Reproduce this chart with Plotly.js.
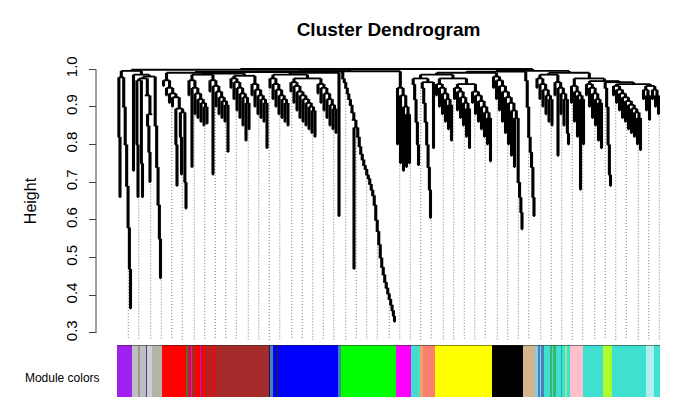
<!DOCTYPE html>
<html>
<head>
<meta charset="utf-8">
<script src="https://cdn.plot.ly/plotly-3.0.1.min.js"></script>
<style>html,body{margin:0;padding:0;overflow:hidden;background:#fff}</style>
</head>
<body>
<div id="chart" style="width:700px;height:411px"></div>
<script>
// ---- Dendrogram data: merge heights between neighbouring leaves (leaf order), one array per branch ----
const b01 = [0.82, 0.66];
const b02 = [0.90, 0.80, 0.69, 0.58, 0.47, 0.365];                                   // purple tail
const b03 = [0.73, 0.985, 0.80, 0.66, 0.97, 0.75, 0.66, 0.975, 0.93, 0.85,
             0.78, 0.70, 0.88, 0.98, 0.85, 0.74, 0.64, 0.55, 0.445];                     // grey
const b04 = [0.955, 0.97, 0.93, 0.95, 0.91, 0.935, 0.90, 0.925,
             0.80, 0.69, 0.895, 0.82, 0.72, 0.885, 0.70, 0.63];                           // red
const b05 = [0.93, 0.97, 0.74, 0.95, 0.88, 0.935, 0.87, 0.92, 0.86, 0.91, 0.85, 0.90, 0.855,
             0.985,
             0.94, 0.97, 0.72, 0.955, 0.90, 0.94, 0.88, 0.925, 0.87, 0.915, 0.86, 0.905, 0.78,
             0.988,
             0.95, 0.975, 0.92, 0.965, 0.89, 0.95, 0.87, 0.935, 0.85, 0.925, 0.81, 0.91, 0.84,
             0.982,
             0.93, 0.96, 0.90, 0.945, 0.88, 0.93, 0.87, 0.92, 0.86, 0.91, 0.79];             // brown area
const b06 = [0.95, 0.975, 0.92, 0.96, 0.90, 0.945, 0.88, 0.93, 0.87, 0.92, 0.86, 0.91, 0.85,
             0.985,
             0.94, 0.965, 0.91, 0.955, 0.89, 0.94, 0.87, 0.93, 0.86, 0.92, 0.85, 0.91, 0.84, 0.90, 0.83, 0.89, 0.82,
             0.975,
             0.935, 0.96, 0.91, 0.95, 0.89, 0.935, 0.87, 0.92, 0.85, 0.905, 0.84, 0.895, 0.83];  // blue
const b07 = [0.61];
const b08 = [0.975, 0.965, 0.95, 0.935, 0.92, 0.905, 0.885, 0.865, 0.47, 0.845,
             0.82, 0.795, 0.775, 0.76, 0.745, 0.735, 0.72, 0.71, 0.695, 0.68,
             0.665, 0.64, 0.60, 0.57, 0.535, 0.50, 0.475, 0.455, 0.435, 0.42,
             0.405, 0.39, 0.375, 0.36, 0.345, 0.33];                                       // green tail
const b09 = [0.80, 0.95, 0.75, 0.93, 0.73, 0.90, 0.74, 0.88, 0.75];                       // magenta
const b10 = [0.96, 0.92, 0.86, 0.80, 0.745, 0.975, 0.95, 0.91, 0.86, 0.80, 0.74, 0.68, 0.605, 0.965, 0.79];
const b11 = [0.93, 0.96, 0.90, 0.95, 0.88, 0.935, 0.86, 0.92, 0.84, 0.905, 0.81,
             0.975,
             0.92, 0.95, 0.89, 0.94, 0.87, 0.925, 0.85, 0.91, 0.82, 0.895, 0.79,
             0.96,
             0.91, 0.94, 0.88, 0.93, 0.86, 0.915, 0.84, 0.90, 0.82, 0.885, 0.80, 0.87, 0.755];  // yellow
const b12 = [0.95, 0.98, 0.92, 0.97, 0.89, 0.955, 0.86, 0.94, 0.83, 0.925,
             0.80, 0.91, 0.77, 0.89, 0.74, 0.87, 0.70, 0.66, 0.62, 0.575];                // black
const b13 = [0.97, 0.90, 0.82, 0.78, 0.74, 0.66, 0.61];                                     // tan
const b14 = [0.95, 0.975, 0.92, 0.96, 0.90, 0.945, 0.88, 0.93, 0.86, 0.92, 0.85,
             0.985,
             0.93, 0.965, 0.77, 0.95, 0.88, 0.935, 0.85, 0.92, 0.83, 0.80];
const b15 = [0.91, 0.955, 0.86, 0.94, 0.82, 0.93, 0.68, 0.92, 0.80,
             0.975,
             0.93, 0.96, 0.90, 0.95, 0.87, 0.935, 0.85, 0.92, 0.81, 0.91, 0.79,
             0.968,
             0.95, 0.90, 0.80, 0.72, 0.69,
             0.965,
             0.93, 0.955, 0.91, 0.945, 0.89, 0.935, 0.87, 0.925, 0.86, 0.915, 0.84, 0.905, 0.83, 0.895, 0.82, 0.885, 0.80, 0.87, 0.785,
             0.96,
             0.92, 0.945, 0.89, 0.93, 0.865,
             0.955,
             0.92, 0.945, 0.90, 0.93, 0.88];                                                 // pink / turquoise
const topMerges = [0.978, 0.995, 0.998, 0.99, 0.992, 0.99, 0.993, 0.994, 1.0, 0.985, 0.99, 0.993, 0.995, 0.99];

// ---- Module colours along the leaf order (colour, number of leaves) ----
const moduleColorSeq = ['#A020F0','#BEBEBE','#999999','#BEBEBE','#483D8B','#D0CCD8','#B2B6A8','#FF0000','#556B2F','#FF0000',
  '#A52A2A','#FF00FF','#A52A2A','#FF0000','#A020F0','#FF0000','#A52A2A','#FF0000','#A52A2A','#FF0000',
  '#A52A2A','#FF0000','#A52A2A','#191970','#4682B4','#0000FF','#191970','#0000FF','#4682B4','#00FF00',
  '#FF00FF','#40E0D0','#66CDAA','#40E0D0','#F4A460','#FA8072','#FFFF00','#000000','#D2B48C','#87CEEB',
  '#4682B4','#87CEEB','#4682B4','#40E0D0','#3CB371','#40E0D0','#3CB371','#40E0D0','#20B2AA','#40E0D0',
  '#90EE90','#40E0D0','#FFC0CB','#40E0D0','#ADFF2F','#40E0D0','#AFEEEE','#40E0D0'];
const moduleColorRun = [10,4,1,4,1,3,7,16,1,1,
  1,1,2,3,1,1,1,1,2,1,
  2,1,36,1,2,2,1,40,2,37,
  10,3,1,2,2,8,38,21,8,2,
  1,1,2,4,1,1,2,3,1,2,
  1,2,9,13,6,23,5,4];

const yTickVals = [0.3, 0.4, 0.5, 0.6, 0.7, 0.8, 0.9, 1.0];
const yTickText = ['0.3', '0.4', '0.5', '0.6', '0.7', '0.8', '0.9', '1.0'];
const colorRowLabel = 'Module colors';
const hang = 0;
const guideCount = 50;
const yRange = [0.2814, 1.01856];

// ---- build merge-height sequence ----
const branches = [b01,b02,b03,b04,b05,b06,b07,b08,b09,b10,b11,b12,b13,b14,b15];
const gaps = [];
branches.forEach((b, j) => { gaps.push(...b); if (j < topMerges.length) gaps.push(topMerges[j]); });
const N = gaps.length + 1;

function build(a, b) {
  if (a === b) return { leaf: true, x: a };
  let k = a;
  for (let t = a; t < b; t++) if (gaps[t] > gaps[k]) k = t;
  const L = build(a, k), R = build(k + 1, b);
  return { leaf: false, x: (L.x + R.x) / 2, h: gaps[k], L, R };
}
const root = build(0, N - 1);

const vx = [], vy = [], hx = [], hy = [];
const leafBottom = new Array(N);
function draw(node) {
  if (node.leaf) return;
  [node.L, node.R].forEach(c => {
    const bottom = c.leaf ? node.h - hang : c.h;
    if (c.leaf) leafBottom[c.x] = bottom;
    if (bottom < node.h) { vx.push(c.x, c.x, null); vy.push(bottom, node.h, null); }
    draw(c);
  });
  hx.push(node.L.x, node.R.x, null); hy.push(node.h, node.h, null);
}
draw(root);

// guides
const gx = [], gy = [];
for (let k = 1; k <= guideCount; k++) {
  const i = Math.round(k * (N - 1) / guideCount);
  gx.push(i, i, null); gy.push(leafBottom[i] - 0.006, yRange[0], null);
}

// colour row
const leafColors = [];
moduleColorSeq.forEach((c, j) => { for (let r = 0; r < moduleColorRun[j]; r++) leafColors.push(c); });
const uniq = [...new Set(leafColors)];
const zRow = leafColors.map(c => uniq.indexOf(c));
const cscale = uniq.map((c, k) => [uniq.length > 1 ? k / (uniq.length - 1) : 0, c]);

const font = 'Liberation Sans, Arial, Helvetica, sans-serif';
const traces = [
  { type: 'scatter', mode: 'lines', x: gx, y: gy, xaxis: 'x', yaxis: 'y',
    line: { color: '#777', width: 1, dash: '1px,2px' }, hoverinfo: 'skip', connectgaps: false },
  { type: 'scatter', mode: 'lines', x: hx, y: hy, xaxis: 'x', yaxis: 'y',
    line: { color: '#000', width: 1.8 }, hoverinfo: 'skip', connectgaps: false },
  { type: 'scatter', mode: 'lines', x: vx, y: vy, xaxis: 'x', yaxis: 'y',
    line: { color: '#000', width: 3.1 }, hoverinfo: 'skip', connectgaps: false },
  { type: 'heatmap', x: zRow.map((_, i) => i), y: [0.5], z: [zRow], xaxis: 'x', yaxis: 'y2',
    colorscale: cscale, zmin: 0, zmax: uniq.length - 1, showscale: false, hoverinfo: 'skip', zsmooth: false }
];

const W = 700, H = 411, ml = 96, mr = 40, mt = 62;
const plotW = W - ml - mr;
const layout = {
  width: W, height: H,
  margin: { l: ml, r: mr, t: mt, b: 0, pad: 0 },
  paper_bgcolor: '#fff', plot_bgcolor: '#fff',
  showlegend: false,
  font: { family: font, color: '#000' },
  title: { text: '<b>Cluster Dendrogram</b>', font: { size: 19, family: font, color: '#000' },
           xref: 'paper', x: (388.5 - ml) / plotW, xanchor: 'center',
           yref: 'container', y: 1 - 29 / H, yanchor: 'middle' },
  xaxis: { domain: [21 / plotW, 1], range: [-0.5, N - 0.5], visible: false, fixedrange: true, anchor: 'y' },
  yaxis: { domain: [(H - mt - 278) / (H - mt), 1], range: yRange, anchor: 'free', position: 0,
           showgrid: false, zeroline: false, showline: false,
           ticks: 'outside', ticklen: 7, tickwidth: 1, tickcolor: '#444',
           tickvals: yTickVals, ticktext: yTickText, tickangle: -90,
           tickfont: { size: 15, family: font, color: '#000' }, ticklabelstandoff: 6,
           title: { text: 'Height', font: { size: 16, family: font, color: '#000' }, standoff: 21 } },
  yaxis2: { domain: [0, 66 / (H - mt)], range: [0, 1], anchor: 'x',
            showgrid: false, zeroline: false, showline: false,
            ticks: 'outside', ticklen: 14, tickcolor: 'rgba(0,0,0,0)',
            tickvals: [0.5], ticktext: [colorRowLabel], tickfont: { size: 12, family: font, color: '#000' } },
  shapes: [
    { type: 'line', xref: 'paper', yref: 'y', x0: 0, x1: 0, y0: yTickVals[0], y1: yTickVals[yTickVals.length - 1],
      line: { color: '#444', width: 1 } },
    { type: 'line', xref: 'x', yref: 'y2', x0: -0.5, x1: N - 0.5, y0: 1, y1: 1,
      line: { color: '#222', width: 1 } }
  ]
};
Plotly.newPlot('chart', traces, layout, { staticPlot: true, displayModeBar: false });
</script>
</body>
</html>
